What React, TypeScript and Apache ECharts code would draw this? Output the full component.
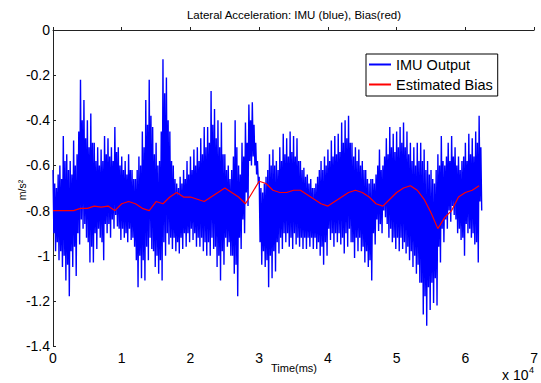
import React, { useEffect, useRef } from "react";
import * as echarts from "echarts";

// time grid in units of 10^4 ms, step 0.05
const imuTimes: number[] = [
  0.00, 0.05, 0.10, 0.15, 0.20, 0.25, 0.30, 0.35, 0.40, 0.45,
  0.50, 0.55, 0.60, 0.65, 0.70, 0.75, 0.80, 0.85, 0.90, 0.95,
  1.00, 1.05, 1.10, 1.15, 1.20, 1.25, 1.30, 1.35, 1.40, 1.45,
  1.50, 1.55, 1.60, 1.65, 1.70, 1.75, 1.80, 1.85, 1.90, 1.95,
  2.00, 2.05, 2.10, 2.15, 2.20, 2.25, 2.30, 2.35, 2.40, 2.45,
  2.50, 2.55, 2.60, 2.65, 2.70, 2.75, 2.80, 2.85, 2.90, 2.95,
  3.00, 3.05, 3.10, 3.15, 3.20, 3.25, 3.30, 3.35, 3.40, 3.45,
  3.50, 3.55, 3.60, 3.65, 3.70, 3.75, 3.80, 3.85, 3.90, 3.95,
  4.00, 4.05, 4.10, 4.15, 4.20, 4.25, 4.30, 4.35, 4.40, 4.45,
  4.50, 4.55, 4.60, 4.65, 4.70, 4.75, 4.80, 4.85, 4.90, 4.95,
  5.00, 5.05, 5.10, 5.15, 5.20, 5.25, 5.30, 5.35, 5.40, 5.45,
  5.50, 5.55, 5.60, 5.65, 5.70, 5.75, 5.80, 5.85, 5.90, 5.95,
  6.00, 6.05, 6.10, 6.15, 6.20,
];

// IMU output: local peaks (upper) and troughs (lower), m/s^2
const imuPeaks: number[] = [
  -0.62, -0.70, -0.60, -0.47, -0.55, -0.58, -0.49, -0.55, -0.22, -0.31,
  -0.40, -0.37, -0.50, -0.52, -0.53, -0.47, -0.48, -0.52, -0.43, -0.52,
  -0.56, -0.58, -0.55, -0.62, -0.66, -0.56, -0.45, -0.31, -0.22, -0.43,
  -0.50, -0.58, -0.13, -0.21, -0.45, -0.60, -0.68, -0.65, -0.62, -0.58,
  -0.56, -0.53, -0.52, -0.48, -0.43, -0.43, -0.27, -0.35, -0.40, -0.41,
  -0.55, -0.60, -0.62, -0.40, -0.60, -0.50, -0.41, -0.33, -0.32, -0.50,
  -0.65, -0.72, -0.65, -0.55, -0.53, -0.58, -0.52, -0.46, -0.48, -0.45,
  -0.47, -0.48, -0.58, -0.61, -0.64, -0.66, -0.70, -0.65, -0.58, -0.56,
  -0.53, -0.49, -0.47, -0.46, -0.41, -0.40, -0.38, -0.50, -0.52, -0.53,
  -0.58, -0.62, -0.68, -0.66, -0.64, -0.53, -0.60, -0.48, -0.43, -0.46,
  -0.45, -0.43, -0.41, -0.45, -0.50, -0.52, -0.50, -0.50, -0.53, -0.58,
  -0.62, -0.68, -0.55, -0.47, -0.60, -0.50, -0.47, -0.52, -0.56, -0.58,
  -0.50, -0.46, -0.48, -0.45, -0.38,
];

// secondary (smaller) peaks inside each bin
const imuPeaks2: number[] = [
  -0.68, -0.64, -0.66, -0.58, -0.62, -0.64, -0.60, -0.45, -0.40, -0.48,
  -0.52, -0.50, -0.58, -0.60, -0.58, -0.55, -0.56, -0.58, -0.54, -0.60,
  -0.62, -0.64, -0.62, -0.66, -0.62, -0.60, -0.52, -0.42, -0.38, -0.55,
  -0.60, -0.45, -0.28, -0.40, -0.58, -0.66, -0.70, -0.68, -0.66, -0.64,
  -0.62, -0.60, -0.58, -0.55, -0.52, -0.50, -0.42, -0.48, -0.52, -0.55,
  -0.62, -0.66, -0.56, -0.52, -0.64, -0.56, -0.50, -0.40, -0.42, -0.58,
  -0.70, -0.68, -0.62, -0.60, -0.60, -0.62, -0.58, -0.55, -0.56, -0.54,
  -0.56, -0.58, -0.62, -0.65, -0.68, -0.70, -0.68, -0.62, -0.62, -0.60,
  -0.58, -0.56, -0.55, -0.54, -0.50, -0.48, -0.50, -0.56, -0.58, -0.60,
  -0.62, -0.66, -0.66, -0.68, -0.60, -0.62, -0.56, -0.55, -0.52, -0.54,
  -0.52, -0.50, -0.52, -0.55, -0.58, -0.60, -0.58, -0.58, -0.62, -0.64,
  -0.66, -0.62, -0.60, -0.58, -0.56, -0.58, -0.56, -0.60, -0.62, -0.56,
  -0.58, -0.55, -0.56, -0.50, -0.52,
];

const imuTroughs: number[] = [
  -0.98, -1.02, -1.05, -1.11, -1.18, -1.05, -1.09, -0.95, -0.88, -0.92,
  -1.03, -1.03, -0.97, -0.92, -1.02, -0.90, -0.92, -0.88, -0.87, -0.93,
  -0.92, -0.94, -0.93, -0.96, -1.14, -1.10, -1.11, -1.02, -0.97, -1.05,
  -1.08, -1.11, -1.00, -0.95, -0.97, -0.98, -0.99, -0.97, -0.96, -0.94,
  -0.93, -0.96, -0.96, -0.98, -1.00, -1.00, -0.97, -1.05, -1.11, -1.04,
  -0.96, -1.00, -1.08, -1.18, -0.97, -0.90, -0.78, -0.60, -0.60, -0.68,
  -1.04, -1.05, -1.14, -1.10, -1.07, -0.99, -0.97, -0.94, -0.96, -0.97,
  -0.95, -0.96, -0.97, -0.97, -0.96, -0.97, -0.97, -1.00, -1.04, -1.00,
  -0.93, -0.96, -0.94, -0.95, -0.99, -0.96, -0.94, -1.01, -0.98, -0.98,
  -1.03, -1.05, -1.11, -0.95, -0.89, -0.90, -0.83, -0.92, -0.94, -0.97,
  -0.98, -0.97, -0.99, -1.02, -1.05, -1.08, -1.12, -1.26, -1.31, -1.24,
  -1.21, -1.22, -1.03, -0.94, -0.88, -0.85, -0.82, -0.90, -0.93, -1.00,
  -0.90, -0.92, -0.95, -1.03, -0.80,
];

// secondary (smaller) troughs inside each bin
const imuTroughs2: number[] = [
  -0.90, -0.94, -0.98, -1.00, -1.04, -0.98, -0.96, -0.90, -0.84, -0.86,
  -0.94, -0.96, -0.90, -0.88, -0.94, -0.86, -0.86, -0.84, -0.82, -0.88,
  -0.88, -0.90, -0.88, -0.92, -1.02, -1.00, -1.02, -0.96, -0.92, -0.98,
  -1.00, -1.02, -0.94, -0.90, -0.92, -0.92, -0.94, -0.92, -0.90, -0.90,
  -0.88, -0.90, -0.92, -0.92, -0.94, -0.94, -0.92, -0.96, -1.00, -0.98,
  -0.92, -0.94, -1.00, -1.04, -0.92, -0.84, -0.72, -0.58, -0.56, -0.64,
  -0.94, -0.98, -1.02, -1.00, -0.98, -0.94, -0.92, -0.90, -0.90, -0.92,
  -0.90, -0.92, -0.92, -0.92, -0.92, -0.92, -0.92, -0.94, -0.96, -0.94,
  -0.88, -0.90, -0.90, -0.90, -0.92, -0.90, -0.88, -0.94, -0.92, -0.92,
  -0.96, -0.98, -1.02, -0.90, -0.84, -0.86, -0.80, -0.86, -0.88, -0.92,
  -0.92, -0.92, -0.94, -0.96, -0.98, -1.00, -1.04, -1.12, -1.18, -1.14,
  -1.12, -1.10, -0.96, -0.88, -0.84, -0.80, -0.78, -0.84, -0.88, -0.92,
  -0.86, -0.88, -0.90, -0.94, -0.76,
];

// Estimated bias, step 0.1 (x 10^4 ms)
const biasTimes: number[] = [
  0.0, 0.1, 0.2, 0.3, 0.4, 0.5, 0.6, 0.7, 0.8, 0.9,
  1.0, 1.1, 1.2, 1.3, 1.4, 1.5, 1.6, 1.7, 1.8, 1.9,
  2.0, 2.1, 2.2, 2.3, 2.4, 2.5, 2.6, 2.7, 2.8, 2.9,
  3.0, 3.1, 3.2, 3.3, 3.4, 3.5, 3.6, 3.7, 3.8, 3.9,
  4.0, 4.1, 4.2, 4.3, 4.4, 4.5, 4.6, 4.7, 4.8, 4.9,
  5.0, 5.1, 5.2, 5.3, 5.4, 5.5, 5.6, 5.7, 5.8, 5.9,
  6.0, 6.1, 6.2,
];
const biasValues: number[] = [
  -0.80, -0.80, -0.80, -0.80, -0.79, -0.79, -0.78, -0.785, -0.78, -0.80,
  -0.77, -0.76, -0.77, -0.79, -0.80, -0.76, -0.77, -0.74, -0.72, -0.74,
  -0.74, -0.75, -0.76, -0.74, -0.72, -0.70, -0.72, -0.74, -0.77, -0.72,
  -0.67, -0.68, -0.71, -0.72, -0.72, -0.71, -0.71, -0.73, -0.75, -0.77,
  -0.78, -0.76, -0.74, -0.72, -0.71, -0.72, -0.74, -0.77, -0.78, -0.75,
  -0.72, -0.70, -0.69, -0.71, -0.75, -0.81, -0.88, -0.83, -0.80, -0.74,
  -0.72, -0.71, -0.69,
];

const xTicks: number[] = [0, 1, 2, 3, 4, 5, 6, 7];
const yTicks: number[] = [0, -0.2, -0.4, -0.6, -0.8, -1, -1.2, -1.4];

const FONT = '"Liberation Sans", Arial, Helvetica, sans-serif';

export default function App() {
  const ref = useRef<HTMLDivElement>(null);
  useEffect(() => {
    if (!ref.current) return;
    const chart = echarts.init(ref.current, null, { renderer: "svg" });
    const scale = 10000;
    const imuData: number[][] = [];
    imuTimes.forEach((t, i) => {
      const x = t * scale;
      imuData.push([x, imuPeaks[i]]);
      imuData.push([x + 125, imuTroughs2[i]]);
      imuData.push([x + 250, imuPeaks2[i]]);
      imuData.push([x + 375, imuTroughs[i]]);
    });
    const biasData = biasTimes.map((t, i) => [t * scale, biasValues[i]]);
    chart.setOption({
      animation: false,
      backgroundColor: "#ffffff",
      title: {
        text: "Lateral Acceleration: IMU (blue), Bias(red)",
        left: 294,
        top: 9,
        padding: 0,
        textAlign: "center",
        textStyle: { fontFamily: FONT, fontSize: 11.5, fontWeight: "normal", color: "#000" },
      },
      grid: { left: 53, top: 30, right: 6, bottom: 37, containLabel: false },
      legend: {
        left: 366,
        top: 54,
        orient: "vertical",
        backgroundColor: "#ffffff",
        borderColor: "#000",
        borderWidth: 1,
        borderRadius: 0,
        padding: [3, 5, 4, 2],
        itemGap: 5,
        itemWidth: 22,
        itemHeight: 14,
        itemStyle: { opacity: 0 },
        textStyle: { fontFamily: FONT, fontSize: 14.5, color: "#000" },
        data: ["IMU Output", "Estimated Bias"],
      },
      xAxis: {
        type: "value",
        min: xTicks[0] * scale,
        max: xTicks[xTicks.length - 1] * scale,
        interval: scale,
        axisLine: { show: true, lineStyle: { color: "#222", width: 1 } },
        axisTick: { show: true, inside: true, length: 3, lineStyle: { color: "#222" } },
        splitLine: { show: false },
        axisLabel: {
          fontFamily: FONT,
          fontSize: 14,
          color: "#000",
          margin: 5,
          showMinLabel: true,
          showMaxLabel: true,
          formatter: (v: number) => String(Math.round(v / scale)),
        },
      },
      yAxis: {
        type: "value",
        min: yTicks[yTicks.length - 1],
        max: yTicks[0],
        interval: 0.2,
        axisLine: { show: true, lineStyle: { color: "#222", width: 1 } },
        axisTick: { show: true, inside: true, length: 3, lineStyle: { color: "#222" } },
        splitLine: { show: false },
        axisLabel: {
          fontFamily: FONT,
          fontSize: 14,
          color: "#000",
          margin: 3,
          showMinLabel: true,
          showMaxLabel: true,
          formatter: (v: number) => String(Number(v.toFixed(1)) + 0),
        },
      },
      graphic: [
        {
          type: "text",
          x: 22,
          y: 190,
          rotation: Math.PI / 2,
          style: {
            text: "m/s²",
            font: `10.5px ${FONT}`,
            fill: "#000",
            align: "center",
            verticalAlign: "middle",
          },
        },
        {
          type: "text",
          x: 294,
          y: 368,
          style: {
            text: "Time(ms)",
            font: `11px ${FONT}`,
            fill: "#000",
            align: "center",
            verticalAlign: "middle",
          },
        },
        {
          type: "text",
          x: 502,
          y: 374.5,
          style: {
            text: "x 10",
            font: `14px ${FONT}`,
            fill: "#000",
            align: "left",
            verticalAlign: "middle",
          },
        },
        {
          type: "text",
          x: 529,
          y: 369.5,
          style: {
            text: "4",
            font: `9px ${FONT}`,
            fill: "#000",
            align: "left",
            verticalAlign: "middle",
          },
        },
      ],
      series: [
        {
          name: "IMU Output",
          type: "line",
          data: imuData,
          symbol: "none",
          lineStyle: { color: "#0000ff", width: 1.4 },
          itemStyle: { color: "#0000ff" },
          z: 2,
        },
        {
          name: "Estimated Bias",
          type: "line",
          data: biasData,
          symbol: "none",
          lineStyle: { color: "#ff0000", width: 1.2 },
          itemStyle: { color: "#ff0000" },
          z: 3,
        },
      ],
    });
    return () => chart.dispose();
  }, []);
  return <div ref={ref} style={{ position: "fixed", left: 0, top: 0, width: 541, height: 383 }} />;
}
